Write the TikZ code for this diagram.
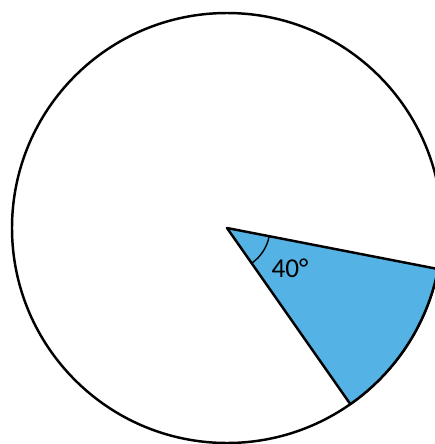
\documentclass[tikz,border=0pt]{standalone}
\usepackage{fontspec}
\setmainfont{Carlito}
\definecolor{sectorblue}{HTML}{54B2E5}
\begin{document}
\begin{tikzpicture}[
  x=0.02cm, y=-0.02cm,
  outline/.style = {draw=black, line width=1.4pt},
  sector/.style = {outline, fill=sectorblue, line join=round},
  anglemark/.style = {draw=black, line width=0.8pt},
  label/.style = {font=\fontsize{15.5}{18}\selectfont}
]
\useasboundingbox (0,0) rectangle (435,444);

% Centre of the circle, radius 215 (y axis points down)
\coordinate (O) at (227,228);

% Whole circle
\draw [outline] (O) circle [radius=215];

% Shaded sector, 11 to 55 degrees below the horizontal
\path [sector] (O) -- ([shift={(11:215)}]O) arc [start angle=11, end angle=55, radius=215] -- cycle;

% Angle mark and its value
\draw [anglemark] ([shift={(11:43)}]O) arc [start angle=11, end angle=55, radius=43];
\node [label] (angle) at (290,268) {40°};

\end{tikzpicture}
\end{document}
